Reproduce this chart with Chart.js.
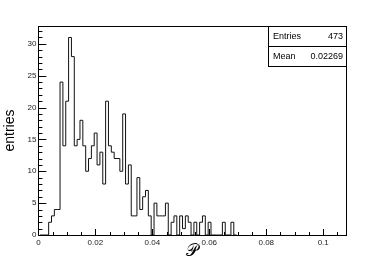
<!DOCTYPE html>
<html><head><meta charset="utf-8">
<script src="https://cdn.jsdelivr.net/npm/chart.js@4.4.0/dist/chart.umd.min.js"></script>
<style>html,body{margin:0;padding:0;background:#fff}#c{display:block}</style>
</head><body>
<canvas id="c" width="384" height="262"></canvas>
<script>
// histogram: bin low edge of first bin, bin width, counts per bin
const binStart = 0.0006;
const binWidth = 0.001;
const counts = [0,0,0,2,3,4,4,24,14,21,31,28,14,15,18,14,10,12,14,16,11,13,8,21,14,13,12,12,10,19,8,11,3,3,9,4,6,7,3,0,5,3,3,3,5,0,2,3,0,3,1,3,2,0,2,0,2,3,0,2,0,0,0,0,2,0,0,2,0];
const xTicks = [0, 0.02, 0.04, 0.06, 0.08, 0.1];
const xTickLabels = ['0', '0.02', '0.04', '0.06', '0.08', '0.1'];
const yTicks = [0, 5, 10, 15, 20, 25, 30];
const xRange = [0, 0.108];
const yRange = [0, 32.8];
const statsLabels = ['Entries', 'Mean'];
const statsValues = ['473', '0.02269'];
const xTitle = '\u{1D4AB}';
const yTitle = 'entries';

const points = counts.map((v, i) => ({x: binStart + i * binWidth, y: v}));
points.push({x: binStart + counts.length * binWidth, y: 0});

const FONT = 'Liberation Sans, Arial, Helvetica, sans-serif';

const frame = {
  id: 'frame',
  afterDraw(chart) {
    const {ctx, chartArea: a, scales: {x, y}} = chart;
    ctx.save();
    ctx.strokeStyle = '#000';
    ctx.lineWidth = 1;
    ctx.strokeRect(Math.round(a.left) + 0.5, Math.round(a.top) + 0.5, Math.round(a.right - a.left), Math.round(a.bottom - a.top));
    ctx.beginPath();
    for (let v = 0; v <= xRange[1] + 1e-9; v += 0.005) {
      const px = Math.round(x.getPixelForValue(v)) + 0.5;
      const major = Math.abs(v / 0.02 - Math.round(v / 0.02)) < 1e-6;
      const len = major ? 6 : 3;
      ctx.moveTo(px, a.bottom);
      ctx.lineTo(px, a.bottom - len);
    }
    for (let v = 0; v <= yRange[1]; v += 1) {
      const py = Math.round(y.getPixelForValue(v)) + 0.5;
      const len = v % 5 === 0 ? 8 : 4;
      ctx.moveTo(a.left, py);
      ctx.lineTo(a.left + len, py);
    }
    ctx.stroke();
    // stats box
    const bx = 268, by = Math.round(a.top), bw = Math.round(a.right) - 268, bh = 40;
    ctx.fillStyle = '#fff';
    ctx.fillRect(bx, by, bw, bh);
    ctx.strokeRect(bx + 0.5, by + 0.5, bw, bh);
    ctx.beginPath();
    ctx.moveTo(bx, by + 20.5);
    ctx.lineTo(bx + bw, by + 20.5);
    ctx.stroke();
    ctx.fillStyle = '#000';
    ctx.font = '9px ' + FONT;
    ctx.textBaseline = 'middle';
    statsLabels.forEach((t, i) => {
      ctx.textAlign = 'left';
      ctx.fillText(t, bx + 5, by + 11 + i * 19.5);
      ctx.textAlign = 'right';
      ctx.fillText(statsValues[i], bx + bw - 3, by + 11 + i * 19.5);
    });
    ctx.restore();
  }
};

new Chart(document.getElementById('c'), {
  type: 'line',
  data: {
    datasets: [{
      data: points,
      stepped: true,
      borderColor: '#111',
      borderWidth: 1,
      pointRadius: 0,
      fill: false,
      tension: 0
    }]
  },
  options: {
    responsive: false,
    animation: false,
    devicePixelRatio: 1,
    layout: {padding: {top: 26, right: 38, left: 0, bottom: 0}},
    plugins: {legend: {display: false}, tooltip: {enabled: false}},
    scales: {
      x: {
        type: 'linear',
        min: xRange[0], max: xRange[1],
        afterBuildTicks: s => { s.ticks = xTicks.map(v => ({value: v})); },
        afterFit: s => { s.height = 27; },
        ticks: {
          autoSkip: false, maxRotation: 0, padding: 3,
          color: '#222', font: {family: FONT, size: 8},
          callback: (v) => { const i = xTicks.findIndex(t => Math.abs(t - v) < 1e-9); return i >= 0 ? xTickLabels[i] : ''; }
        },
        grid: {display: false, drawTicks: false},
        border: {display: false},
        title: {display: true, text: xTitle, color: '#000', font: {family: 'DejaVu Sans, serif', size: 17}, padding: {top: 0, bottom: 0}}
      },
      y: {
        min: yRange[0], max: yRange[1],
        afterBuildTicks: s => { s.ticks = yTicks.map(v => ({value: v})); },
        afterFit: s => { s.width = 38.4; },
        ticks: {autoSkip: false, padding: 2, color: '#222', font: {family: FONT, size: 8}},
        grid: {display: false, drawTicks: false},
        border: {display: false},
        title: {display: true, text: yTitle, color: '#000', font: {family: FONT, size: 14}, padding: {top: 2, bottom: 2}}
      }
    }
  },
  plugins: [frame]
});
</script>
</body></html>
